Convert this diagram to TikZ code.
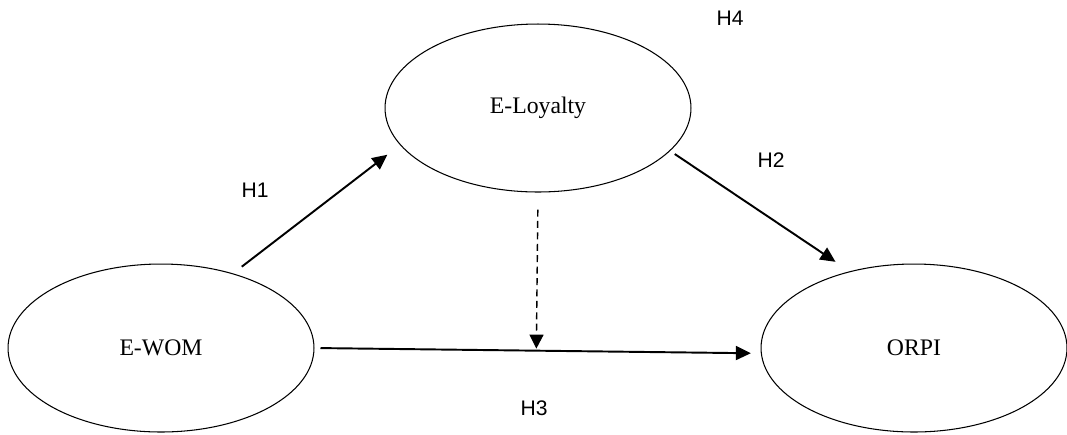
\documentclass[tikz,border=0pt]{standalone}
\usepackage{fontspec}
\setmainfont{Liberation Serif}
\newfontfamily\labelfont{Liberation Sans}
\usetikzlibrary{positioning,shapes,arrows.meta,calc}

\begin{document}
\begin{tikzpicture}[
        x=0.02cm, y=-0.02cm,
        construct/.style={ellipse, draw, line width=0.6pt, minimum width=6.12cm, minimum height=3.36cm, inner sep=0pt, font=\fontsize{13.5}{16}\selectfont},
        hyp/.style={font=\labelfont\fontsize{12}{14}\selectfont},
        arrow/.style={-{Triangle[length=3mm,width=2.8mm]}, line width=1.1pt},
        dasharrow/.style={-{Triangle[length=2.8mm,width=2.8mm]}, line width=0.8pt, dash pattern=on 4pt off 2.5pt}
    ]
    \useasboundingbox (0,0) rectangle (1067,434);

    % Constructs
    \node[construct] (eloyalty) at (538,108) {E-Loyalty};
    \node[construct] (ewom) at (161,348) {E-WOM};
    \node[construct] (orpi) at (914,348) {ORPI};

    % Direct paths
    \draw[arrow, shorten <=0.22cm, shorten >=0.32cm] (ewom.46) -- (eloyalty.195);
    \draw[arrow, shorten <=0.11cm, shorten >=0.34cm] (eloyalty.-18) -- (orpi.130);
    \draw[arrow, shorten <=0.12cm, shorten >=0.2cm] (ewom.east) -- coordinate[pos=0.497] (meet) (orpi.182);

    % Mediation
    \draw[dasharrow, shorten <=0.34cm, shorten >=0.04cm] (eloyalty.south) -- (meet);

    % Labels
    \node[hyp] (h1) at (255,190) {H1};
    \node[hyp] (h2) at (771,160) {H2};
    \node[hyp] (h3) at (534,408) {H3};
    \node[hyp] (h4) at (730,18) {H4};

\end{tikzpicture}
\end{document}
